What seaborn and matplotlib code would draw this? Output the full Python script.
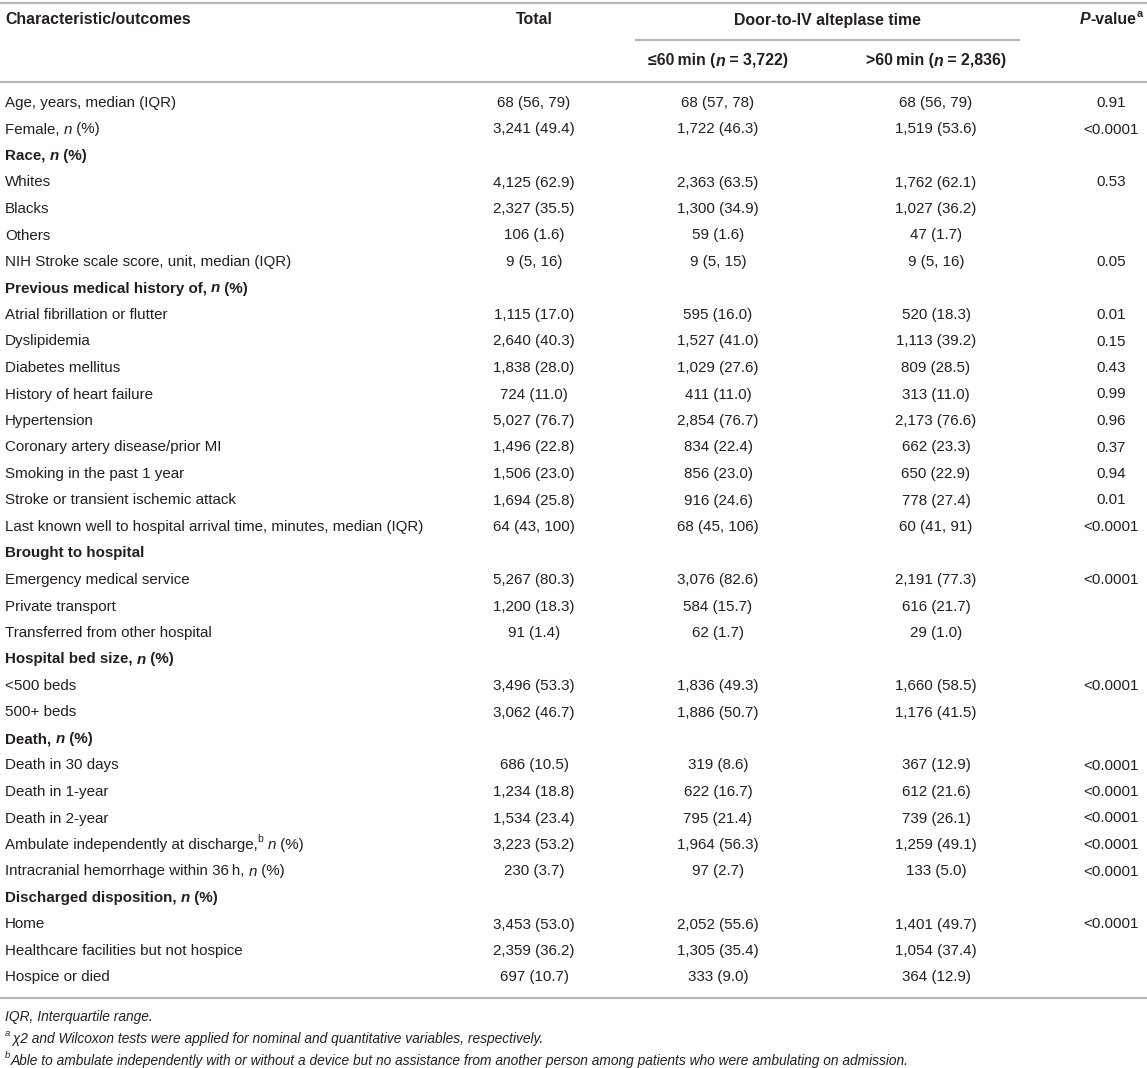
import re
import matplotlib
matplotlib.use("Agg")
import matplotlib.pyplot as plt
import seaborn as sns

sns.set_theme(style="white")
plt.rcParams["font.family"] = ["Liberation Sans", "DejaVu Sans"]

# ---------------- data ----------------
labels = [
    "Age, years, median (IQR)",
    "Female, _n_ (%)",
    "Race, _n_ (%)",
    "Whites",
    "Blacks",
    "Others",
    "NIH Stroke scale score, unit, median (IQR)",
    "Previous medical history of, _n_ (%)",
    "Atrial fibrillation or flutter",
    "Dyslipidemia",
    "Diabetes mellitus",
    "History of heart failure",
    "Hypertension",
    "Coronary artery disease/prior MI",
    "Smoking in the past 1 year",
    "Stroke or transient ischemic attack",
    "Last known well to hospital arrival time, minutes, median (IQR)",
    "Brought to hospital",
    "Emergency medical service",
    "Private transport",
    "Transferred from other hospital",
    "Hospital bed size, _n_ (%)",
    "<500 beds",
    "500+ beds",
    "Death, _n_ (%)",
    "Death in 30 days",
    "Death in 1-year",
    "Death in 2-year",
    "Ambulate independently at discharge,^{b} _n_ (%)",
    "Intracranial hemorrhage within 36\u2009h, _n_ (%)",
    "Discharged disposition, _n_ (%)",
    "Home",
    "Healthcare facilities but not hospice",
    "Hospice or died",
]
section_headers = [
    "Race, _n_ (%)",
    "Previous medical history of, _n_ (%)",
    "Brought to hospital",
    "Hospital bed size, _n_ (%)",
    "Death, _n_ (%)",
    "Discharged disposition, _n_ (%)",
]
total = [
    "68 (56, 79)", "3,241 (49.4)", "", "4,125 (62.9)", "2,327 (35.5)", "106 (1.6)",
    "9 (5, 16)", "", "1,115 (17.0)", "2,640 (40.3)", "1,838 (28.0)", "724 (11.0)",
    "5,027 (76.7)", "1,496 (22.8)", "1,506 (23.0)", "1,694 (25.8)", "64 (43, 100)", "",
    "5,267 (80.3)", "1,200 (18.3)", "91 (1.4)", "", "3,496 (53.3)", "3,062 (46.7)", "",
    "686 (10.5)", "1,234 (18.8)", "1,534 (23.4)", "3,223 (53.2)", "230 (3.7)", "",
    "3,453 (53.0)", "2,359 (36.2)", "697 (10.7)",
]
le60 = [
    "68 (57, 78)", "1,722 (46.3)", "", "2,363 (63.5)", "1,300 (34.9)", "59 (1.6)",
    "9 (5, 15)", "", "595 (16.0)", "1,527 (41.0)", "1,029 (27.6)", "411 (11.0)",
    "2,854 (76.7)", "834 (22.4)", "856 (23.0)", "916 (24.6)", "68 (45, 106)", "",
    "3,076 (82.6)", "584 (15.7)", "62 (1.7)", "", "1,836 (49.3)", "1,886 (50.7)", "",
    "319 (8.6)", "622 (16.7)", "795 (21.4)", "1,964 (56.3)", "97 (2.7)", "",
    "2,052 (55.6)", "1,305 (35.4)", "333 (9.0)",
]
gt60 = [
    "68 (56, 79)", "1,519 (53.6)", "", "1,762 (62.1)", "1,027 (36.2)", "47 (1.7)",
    "9 (5, 16)", "", "520 (18.3)", "1,113 (39.2)", "809 (28.5)", "313 (11.0)",
    "2,173 (76.6)", "662 (23.3)", "650 (22.9)", "778 (27.4)", "60 (41, 91)", "",
    "2,191 (77.3)", "616 (21.7)", "29 (1.0)", "", "1,660 (58.5)", "1,176 (41.5)", "",
    "367 (12.9)", "612 (21.6)", "739 (26.1)", "1,259 (49.1)", "133 (5.0)", "",
    "1,401 (49.7)", "1,054 (37.4)", "364 (12.9)",
]
pvals = [
    "0.91", "<0.0001", "", "0.53", "", "",
    "0.05", "", "0.01", "0.15", "0.43", "0.99",
    "0.96", "0.37", "0.94", "0.01", "<0.0001", "",
    "<0.0001", "", "", "", "<0.0001", "", "",
    "<0.0001", "<0.0001", "<0.0001", "<0.0001", "<0.0001", "",
    "<0.0001", "", "",
]
header_first = "Characteristic/outcomes"
header_total = "Total"
header_group = "Door-to-IV alteplase time"
header_le = "\u226460\u2009min (_n_ = 3,722)"
header_gt = ">60\u2009min (_n_ = 2,836)"
header_p = "_P_-value^{a}"
footnotes = [
    "IQR, Interquartile range.",
    "^{a}\u2009\u03c72 and Wilcoxon tests were applied for nominal and quantitative variables, respectively.",
    "^{b}Able to ambulate independently with or without a device but no assistance from another person among patients who were ambulating on admission.",
]

# ---------------- layout ----------------
W, H = 1147, 1068
FS = 10.9
FS_HDR = 11.4
FS_NOTE = 9.9
TXT = "#231f20"
RULE = "#b8b8b8"
LW = 1.6

x_label = 5
cx_total, cx_le, cx_gt, cx_p = 534, 718, 936, 1111
sub_l, sub_r = 635, 1020
y_hdr1, y_hdr2 = 20, 61
y_row0, row_step = 103, 26.5

fig = plt.figure(figsize=(W / 100, H / 100), dpi=100)
ax = fig.add_axes([0, 0, 1, 1])
ax.set_xlim(0, W)
ax.set_ylim(H, 0)
ax.axis("off")
renderer = fig.canvas.get_renderer()


def parse(s):
    segs = []
    for part in re.split(r"(_[^_]+_|\^\{[^}]+\})", s):
        if not part:
            continue
        if part.startswith("_") and part.endswith("_") and len(part) > 2:
            segs.append((part[1:-1], "it"))
        elif part.startswith("^{"):
            segs.append((part[2:-1], "sup"))
        else:
            segs.append((part, ""))
    return segs


def draw(x, y, s, ha="left", size=FS, bold=False, italic=False):
    items = []
    for text, kind in parse(s):
        sup = kind == "sup"
        fs = size * 0.68 if sup else size
        t = ax.text(0, y - (size * 0.55 if sup else 0), text, va="center", ha="left",
                    color=TXT, fontsize=fs,
                    fontweight="bold" if bold else "normal",
                    fontstyle="italic" if (italic or kind == "it") else "normal")
        w = t.get_window_extent(renderer).width
        items.append((t, w))
    tot = sum(w for _, w in items)
    start = x - tot / 2 if ha == "center" else x
    for t, w in items:
        t.set_x(start)
        start += w


# rules
ax.plot([0, W], [3, 3], color=RULE, lw=LW, solid_capstyle="butt")
ax.plot([sub_l, sub_r], [40, 40], color=RULE, lw=LW, solid_capstyle="butt")
ax.plot([0, W], [82, 82], color=RULE, lw=LW, solid_capstyle="butt")
y_last = y_row0 + row_step * (len(labels) - 1)
ax.plot([0, W], [y_last + 20, y_last + 20], color=RULE, lw=LW, solid_capstyle="butt")

# header
draw(x_label, y_hdr1, header_first, size=FS_HDR, bold=True)
draw(cx_total, y_hdr1, header_total, ha="center", size=FS_HDR, bold=True)
draw((sub_l + sub_r) / 2, y_hdr1, header_group, ha="center", size=FS_HDR, bold=True)
draw(cx_p, y_hdr1, header_p, ha="center", size=FS_HDR, bold=True)
draw(cx_le, y_hdr2, header_le, ha="center", size=FS_HDR, bold=True)
draw(cx_gt, y_hdr2, header_gt, ha="center", size=FS_HDR, bold=True)

# body
for i, lab in enumerate(labels):
    y = y_row0 + row_step * i
    draw(x_label, y, lab, bold=lab in section_headers)
    for cx, col in ((cx_total, total), (cx_le, le60), (cx_gt, gt60), (cx_p, pvals)):
        if col[i]:
            draw(cx, y, col[i], ha="center")

# footnotes
y_note = y_last + 39
for k, note in enumerate(footnotes):
    draw(x_label, y_note + 22 * k, note, size=FS_NOTE, italic=True)

fig.savefig("out.png", dpi=100, facecolor="white")
